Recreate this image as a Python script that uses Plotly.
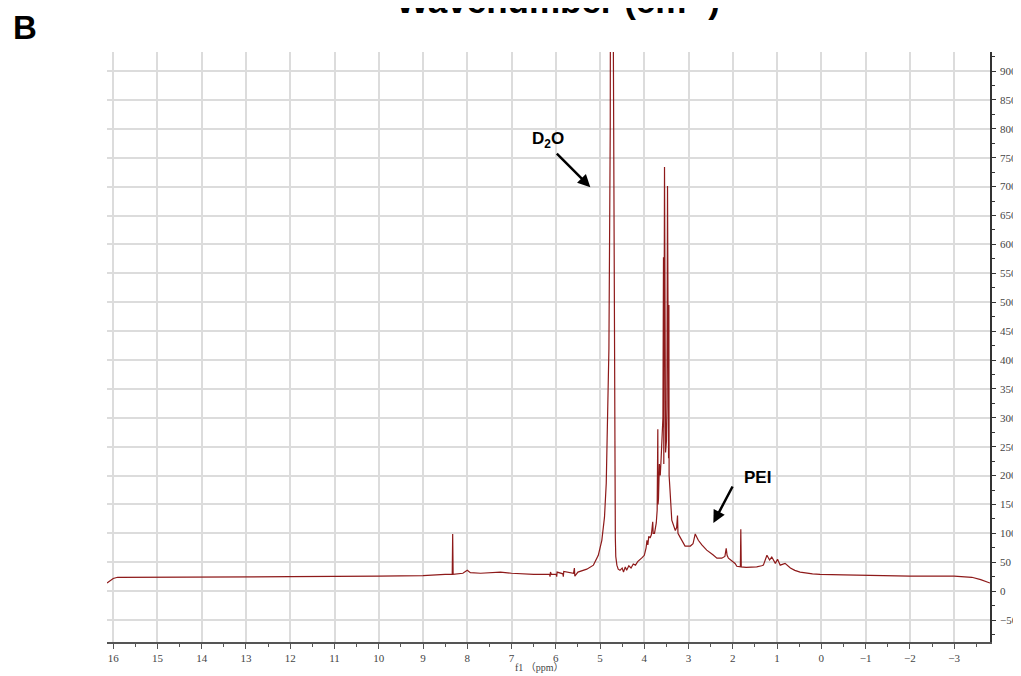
import plotly.graph_objects as go

# ---- data (chemical shift in ppm, intensity) ----
ppm = [16.14, 16.08, 16.0, 15.9, 15.5, 14.0, 12.0, 10.0, 9.0, 8.5, 8.34, 8.33, 8.32,
       8.1, 8.0, 7.93, 7.7, 7.25, 7.0, 6.5, 6.14, 6.13, 6.12, 6.1, 5.99, 5.98, 5.97,
       5.84, 5.83, 5.82, 5.6, 5.58, 5.57, 5.5, 5.3, 5.15, 5.04, 4.96, 4.90, 4.86, 4.83,
       4.80, 4.77, 4.757, 4.73, 4.70, 4.685, 4.675, 4.67, 4.665, 4.655, 4.645, 4.62,
       4.59, 4.55, 4.50, 4.47, 4.43, 4.40, 4.35, 4.30, 4.25, 4.20, 4.15, 4.10, 4.05,
       4.00, 3.96, 3.94, 3.92, 3.90, 3.87, 3.84, 3.81, 3.80, 3.77, 3.73, 3.71, 3.695,
       3.69, 3.68, 3.66, 3.64, 3.62, 3.60, 3.58, 3.567, 3.56, 3.544, 3.535, 3.528,
       3.52, 3.50, 3.49, 3.476, 3.468, 3.46, 3.452, 3.445, 3.44, 3.42, 3.38, 3.30,
       3.27, 3.25, 3.24, 3.19, 3.11, 3.08, 2.96, 2.90, 2.85, 2.80, 2.78, 2.70, 2.59,
       2.45, 2.36, 2.25, 2.18, 2.15, 2.13, 2.10, 2.02, 1.95, 1.91, 1.83, 1.82, 1.81,
       1.70, 1.60, 1.46, 1.35, 1.31, 1.23, 1.17, 1.12, 1.04, 0.99, 0.93, 0.82, 0.70,
       0.60, 0.48, 0.20, 0.03, -0.5, -1.0, -2.0, -3.0, -3.4, -3.6, -3.81]
intensity = [14, 18, 22, 24, 24, 24.5, 25, 26, 27, 29, 29, 99, 29,
             31, 36, 32, 31, 33, 31, 29, 29, 25, 33, 29, 29, 25, 33,
             30, 25, 34, 31, 40, 26, 33, 38, 45, 62, 88, 128, 187, 280,
             420, 800, 950, 3000, 950, 500, 320, 140, 95, 93, 60, 45,
             38, 36, 40, 33, 42, 36, 44, 40, 47, 45, 51, 54, 58,
             62, 75, 88, 80, 95, 92, 98, 120, 100, 100, 118, 140, 280,
             150, 160, 220, 200, 230, 260, 300, 578, 220, 734, 250, 673,
             240, 260, 320, 701, 250, 632, 230, 495, 200, 175, 123, 105,
             110, 131, 100, 93, 80, 78, 78, 82, 99, 92, 88, 80, 71,
             63, 57, 57, 60, 74, 62, 57, 52, 48, 43, 42, 107, 42,
             41, 41, 42, 44, 45, 62, 54, 59, 48, 55, 45, 48, 40,
             36, 33, 30, 29, 28, 27, 26, 26, 24, 20, 14]

x_ticks = list(range(16, -4, -1))
y_ticks = list(range(-50, 901, 50))

fig = go.Figure()
fig.add_trace(go.Scatter(x=ppm, y=intensity, mode="lines",
                         line=dict(color="#8e1a1a", width=1.2), hoverinfo="skip",
                         showlegend=False))

tick_font = dict(family="Liberation Serif, DejaVu Serif, serif", size=11, color="#444")

# page body has an 8px default margin, so the figure is sized/offset to compensate
fig.update_layout(
    width=1013, height=668,
    margin=dict(l=99, r=31, t=44, b=34, autoexpand=False),
    paper_bgcolor="white", plot_bgcolor="white",
    xaxis=dict(range=[16.14, -3.81], tickvals=x_ticks,
               showgrid=True, gridcolor="#dcdcdc", gridwidth=1.5, automargin=False,
               showline=True, linecolor="#555", linewidth=1.5,
               ticks="outside", ticklen=5, tickcolor="#555", tickfont=tick_font,
               minor=dict(dtick=0.5, ticks="outside", ticklen=3, tickcolor="#555", showgrid=False),
               zeroline=False),
    yaxis=dict(range=[-88, 933], side="right", tickvals=y_ticks,
               showgrid=True, gridcolor="#dcdcdc", gridwidth=1.5, automargin=False,
               showline=True, linecolor="#333", linewidth=1.5,
               ticks="outside", ticklen=4, tickcolor="#333", tickfont=tick_font,
               ticklabelstandoff=2,
               minor=dict(dtick=25, ticks="outside", ticklen=3, tickcolor="#333", showgrid=False),
               zeroline=False),
)

annotations = [
    dict(text="<b>Wavenumber (cm<sup>-1</sup>)</b>", xref="paper", yref="paper",
         x=0.511, y=1.091, xanchor="center", yanchor="middle", showarrow=False,
         font=dict(family="Liberation Sans, Arial, sans-serif", size=35, color="black")),
    dict(text="<b>B</b>", xref="paper", yref="paper", x=-0.093, y=1.042,
         xanchor="center", yanchor="middle", showarrow=False,
         font=dict(family="Liberation Sans, Arial, sans-serif", size=33, color="black")),
    dict(text="<b>D<sub>2</sub>O</b>", x=6.17, y=780, xref="x", yref="y", showarrow=False,
         font=dict(family="Liberation Sans, Arial, sans-serif", size=17, color="black")),
    dict(text="", x=5.22, y=699, xref="x", yref="y", ax=-35, ay=-35, showarrow=True,
         arrowhead=2, arrowsize=1, arrowwidth=2.5, arrowcolor="black"),
    dict(text="<b>PEI</b>", x=1.45, y=196, xref="x", yref="y", showarrow=False,
         font=dict(family="Liberation Sans, Arial, sans-serif", size=17, color="black")),
    dict(text="", x=2.44, y=118, xref="x", yref="y", ax=20, ay=-38, showarrow=True,
         arrowhead=2, arrowsize=1, arrowwidth=2.5, arrowcolor="black"),
    dict(text="f1 （ppm）", xref="paper", yref="paper", x=0.49, y=-0.044,
         xanchor="center", yanchor="middle", showarrow=False,
         font=dict(family="Liberation Serif, Noto Sans CJK SC, serif", size=10, color="#444")),
]
fig.update_layout(annotations=annotations)

fig.write_html("out.html")
